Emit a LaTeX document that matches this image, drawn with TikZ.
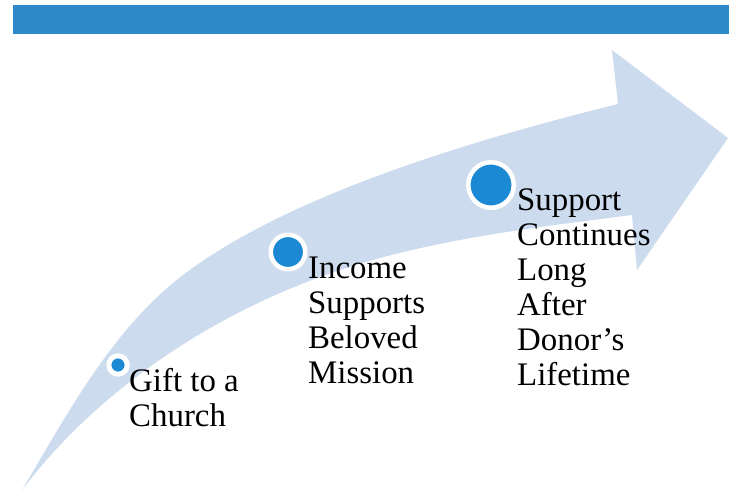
\documentclass[tikz,border=0pt]{standalone}
\usepackage{fontspec}
\setmainfont{Liberation Serif}
\definecolor{barblue}{RGB}{46,137,202}
\definecolor{arrowfill}{RGB}{204,219,238}
\definecolor{dotblue}{RGB}{27,137,212}
\begin{document}
\begin{tikzpicture}[x=1bp,y=-1bp,
  stagedot/.style={circle,fill=dotblue,draw=white,inner sep=0pt},
  stagetext/.style={anchor=base west,align=left,inner sep=0pt,
    font=\fontsize{33}{35}\selectfont,text=black}]
\useasboundingbox (0,0) rectangle (729,492);
% header band
\fill[barblue] (13,5) rectangle (729,34);
% curved arrow: upper edge, head, lower edge back to the tail
\fill[arrowfill]
  (22,490) .. controls (68.6,411.8) and (113.8,326.1) .. (187,272)
  .. controls (291.5,194.8) and (468.5,141) .. (618,104)
  -- (612,50) -- (728,138) -- (637,270) -- (632,215)
  .. controls (527,228.6) and (419.5,240.6) .. (320,277)
  .. controls (205.4,318.8) and (95.6,392.8) .. (22,490)
  -- cycle;
% stages (text anchored at the baseline of its last line)
\node[stagedot,line width=5bp,minimum size=18.4bp] (d1) at (118,365) {};
\node[stagedot,line width=4.5bp,minimum size=34.5bp] (d2) at (288,252) {};
\node[stagedot,line width=4.5bp,minimum size=45.5bp] (d3) at (491,185) {};
\node[stagetext] (t1) at (129,426) {Gift to a\\Church};
\node[stagetext] (t2) at (308,383) {Income\\Supports\\Beloved\\Mission};
\node[stagetext] (t3) at (517,385) {Support\\Continues\\Long\\After\\Donor’s\\Lifetime};
\end{tikzpicture}
\end{document}
